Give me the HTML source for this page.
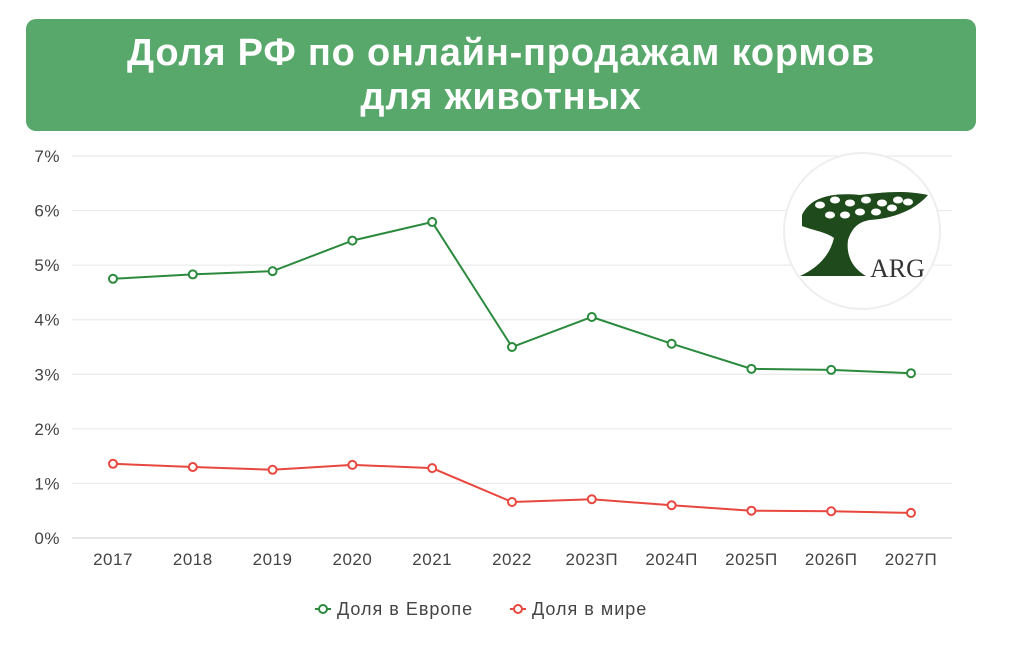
<!DOCTYPE html>
<html><head><meta charset="utf-8"><style>
body{margin:0;background:#fff;width:1010px;height:652px;overflow:hidden;font-family:"Liberation Sans",sans-serif}
#banner{position:absolute;left:26px;top:19px;width:950px;height:112px;background:#58a86b;border-radius:10px;color:#fff;font-weight:bold;font-size:38px;letter-spacing:0.8px;text-align:center;line-height:44px;padding-top:12px;box-sizing:border-box}
svg{position:absolute;left:0;top:0}
</style></head><body>
<div id="banner">Доля РФ по онлайн-продажам кормов<br>для животных</div>
<svg id="c" width="1010" height="652"></svg>
<script>
const categories=["2017","2018","2019","2020","2021","2022","2023П","2024П","2025П","2026П","2027П"];
const europe=[4.75,4.83,4.89,5.45,5.79,3.5,4.05,3.56,3.1,3.08,3.02];
const world=[1.36,1.3,1.25,1.34,1.28,0.66,0.71,0.6,0.5,0.49,0.46];
const yTicks=[0,1,2,3,4,5,6,7];
const svg=document.getElementById('c');const NS='http://www.w3.org/2000/svg';
function mk(t,a,p){const e=document.createElementNS(NS,t);for(const k in a)e.setAttribute(k,a[k]);(p||svg).appendChild(e);return e;}
const y=v=>538-v*54.57, x=i=>113+i*79.8;
yTicks.forEach(t=>{
 const l=mk('line',{x1:72,x2:952,y1:y(t),y2:y(t),stroke:t==0?'#ccc':'#e6e6e6'});
 
 
 const tx=mk('text',{x:60,y:y(t)+6,'text-anchor':'end','font-size':17,'letter-spacing':0.5,fill:'#444'});tx.textContent=t+'%';
 
 
});
categories.forEach((c,i)=>{const tx=mk('text',{x:x(i),y:565,'text-anchor':'middle','font-size':17,'letter-spacing':0.5,fill:'#444'});tx.textContent=c;
 
 });
// logo
const g=mk('g',{});


mk('circle',{cx:862,cy:231,r:78,fill:'#fff',stroke:'#eee','stroke-width':2},g);
mk('path',{d:'M802 215 C810 198 830 192 860 195 C885 192 905 190 928 195 C915 210 895 218 870 220 C858 222 852 228 848 240 C846 255 852 268 866 276 L800 276 C818 268 830 255 834 238 C826 232 812 230 802 226 Z',fill:'#1f4a1c'},g);
[[820,205],[835,200],[850,203],[866,200],[882,203],[898,200],[830,215],[845,215],[860,212],[876,212],[892,208],[908,202]].forEach(p=>mk('ellipse',{cx:p[0],cy:p[1],rx:5,ry:3.5,fill:'#fff'},g));
const lt=mk('text',{x:870,y:277,'font-size':26,fill:'#333','font-family':'Liberation Serif'},g);lt.textContent='ARG';
function series(d,col,name){
 const pl=mk('polyline',{points:d.map((v,i)=>x(i)+','+y(v)).join(' '),fill:'none',stroke:col,'stroke-width':2});
 
 
 d.forEach((v,i)=>{const c=mk('circle',{cx:x(i),cy:y(v),r:4,fill:'#fff',stroke:col,'stroke-width':2});
  
  });
}
series(europe,'#2b8a3e','europe');
series(world,'#e8473f','world');
function leg(lx,col,label,name){const g=mk('g',{});
 
 
 mk('line',{x1:lx-8,x2:lx+8,y1:609,y2:609,stroke:col,'stroke-width':2},g);
 mk('circle',{cx:lx,cy:609,r:4,fill:'#fff',stroke:col,'stroke-width':2},g);
 const t=mk('text',{x:lx+14,y:615,'font-size':18,'letter-spacing':1,fill:'#444'},g);t.textContent=label;}
leg(323,'#2b8a3e','Доля в Европе','legend-europe');
leg(518,'#e8473f','Доля в мире','legend-world');
</script>
</body></html>
